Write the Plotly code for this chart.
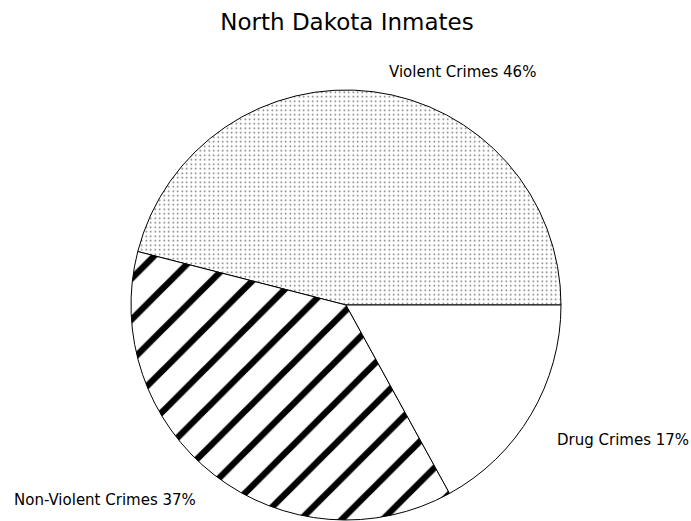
import plotly.graph_objects as go

labels = ["Violent Crimes", "Non-Violent Crimes", "Drug Crimes"]
values = [46, 37, 17]
shapes = [".", "/", ""]
fgcolors = ["#666666", "#000000", "#000000"]
sizes = [4.5, 29, 8]
solidities = [0.1, 0.22, 0.0]

# label positions (pixels in the 691x521 page)
label_px = [(387, 72), (12, 500), (555, 440)]

W, H = 691, 521

# counterclockwise from 3 o'clock, first slice starting there
rotation = 90 - 360 * values[0] / sum(values)

fig = go.Figure(go.Pie(
    labels=labels,
    values=values,
    sort=False,
    direction="counterclockwise",
    rotation=rotation,
    textinfo="none",
    hoverinfo="label+percent",
    showlegend=False,
    marker=dict(
        colors=["white", "white", "white"],
        line=dict(color="black", width=1),
        pattern=dict(shape=shapes, fgcolor=fgcolors, bgcolor="white",
                     fgopacity=1, size=sizes, solidity=solidities,
                     fillmode="replace"),
    ),
    domain=dict(x=[131 / W, 561 / W], y=[1 - 520 / H, 1 - 90 / H]),
))

annotations = []
for (lab, val, (px, py)) in zip(labels, values, label_px):
    annotations.append(dict(
        text=f"{lab} {val}%", x=px / W, y=1 - py / H, xref="paper", yref="paper",
        xanchor="left", yanchor="middle", showarrow=False,
        font=dict(family="DejaVu Sans", size=15, color="black"),
    ))

fig.update_layout(
    width=W, height=H,
    margin=dict(l=0, r=0, t=0, b=0),
    paper_bgcolor="white", plot_bgcolor="white",
    title=dict(text="North Dakota Inmates", x=347 / W, xanchor="center",
               y=1 - 22 / H, yanchor="middle",
               font=dict(family="DejaVu Sans", size=23, color="black")),
    annotations=annotations,
)

fig.write_html("out.html", config={"displayModeBar": False},
               post_script="document.body.style.margin='0';document.body.style.overflow='hidden';")
